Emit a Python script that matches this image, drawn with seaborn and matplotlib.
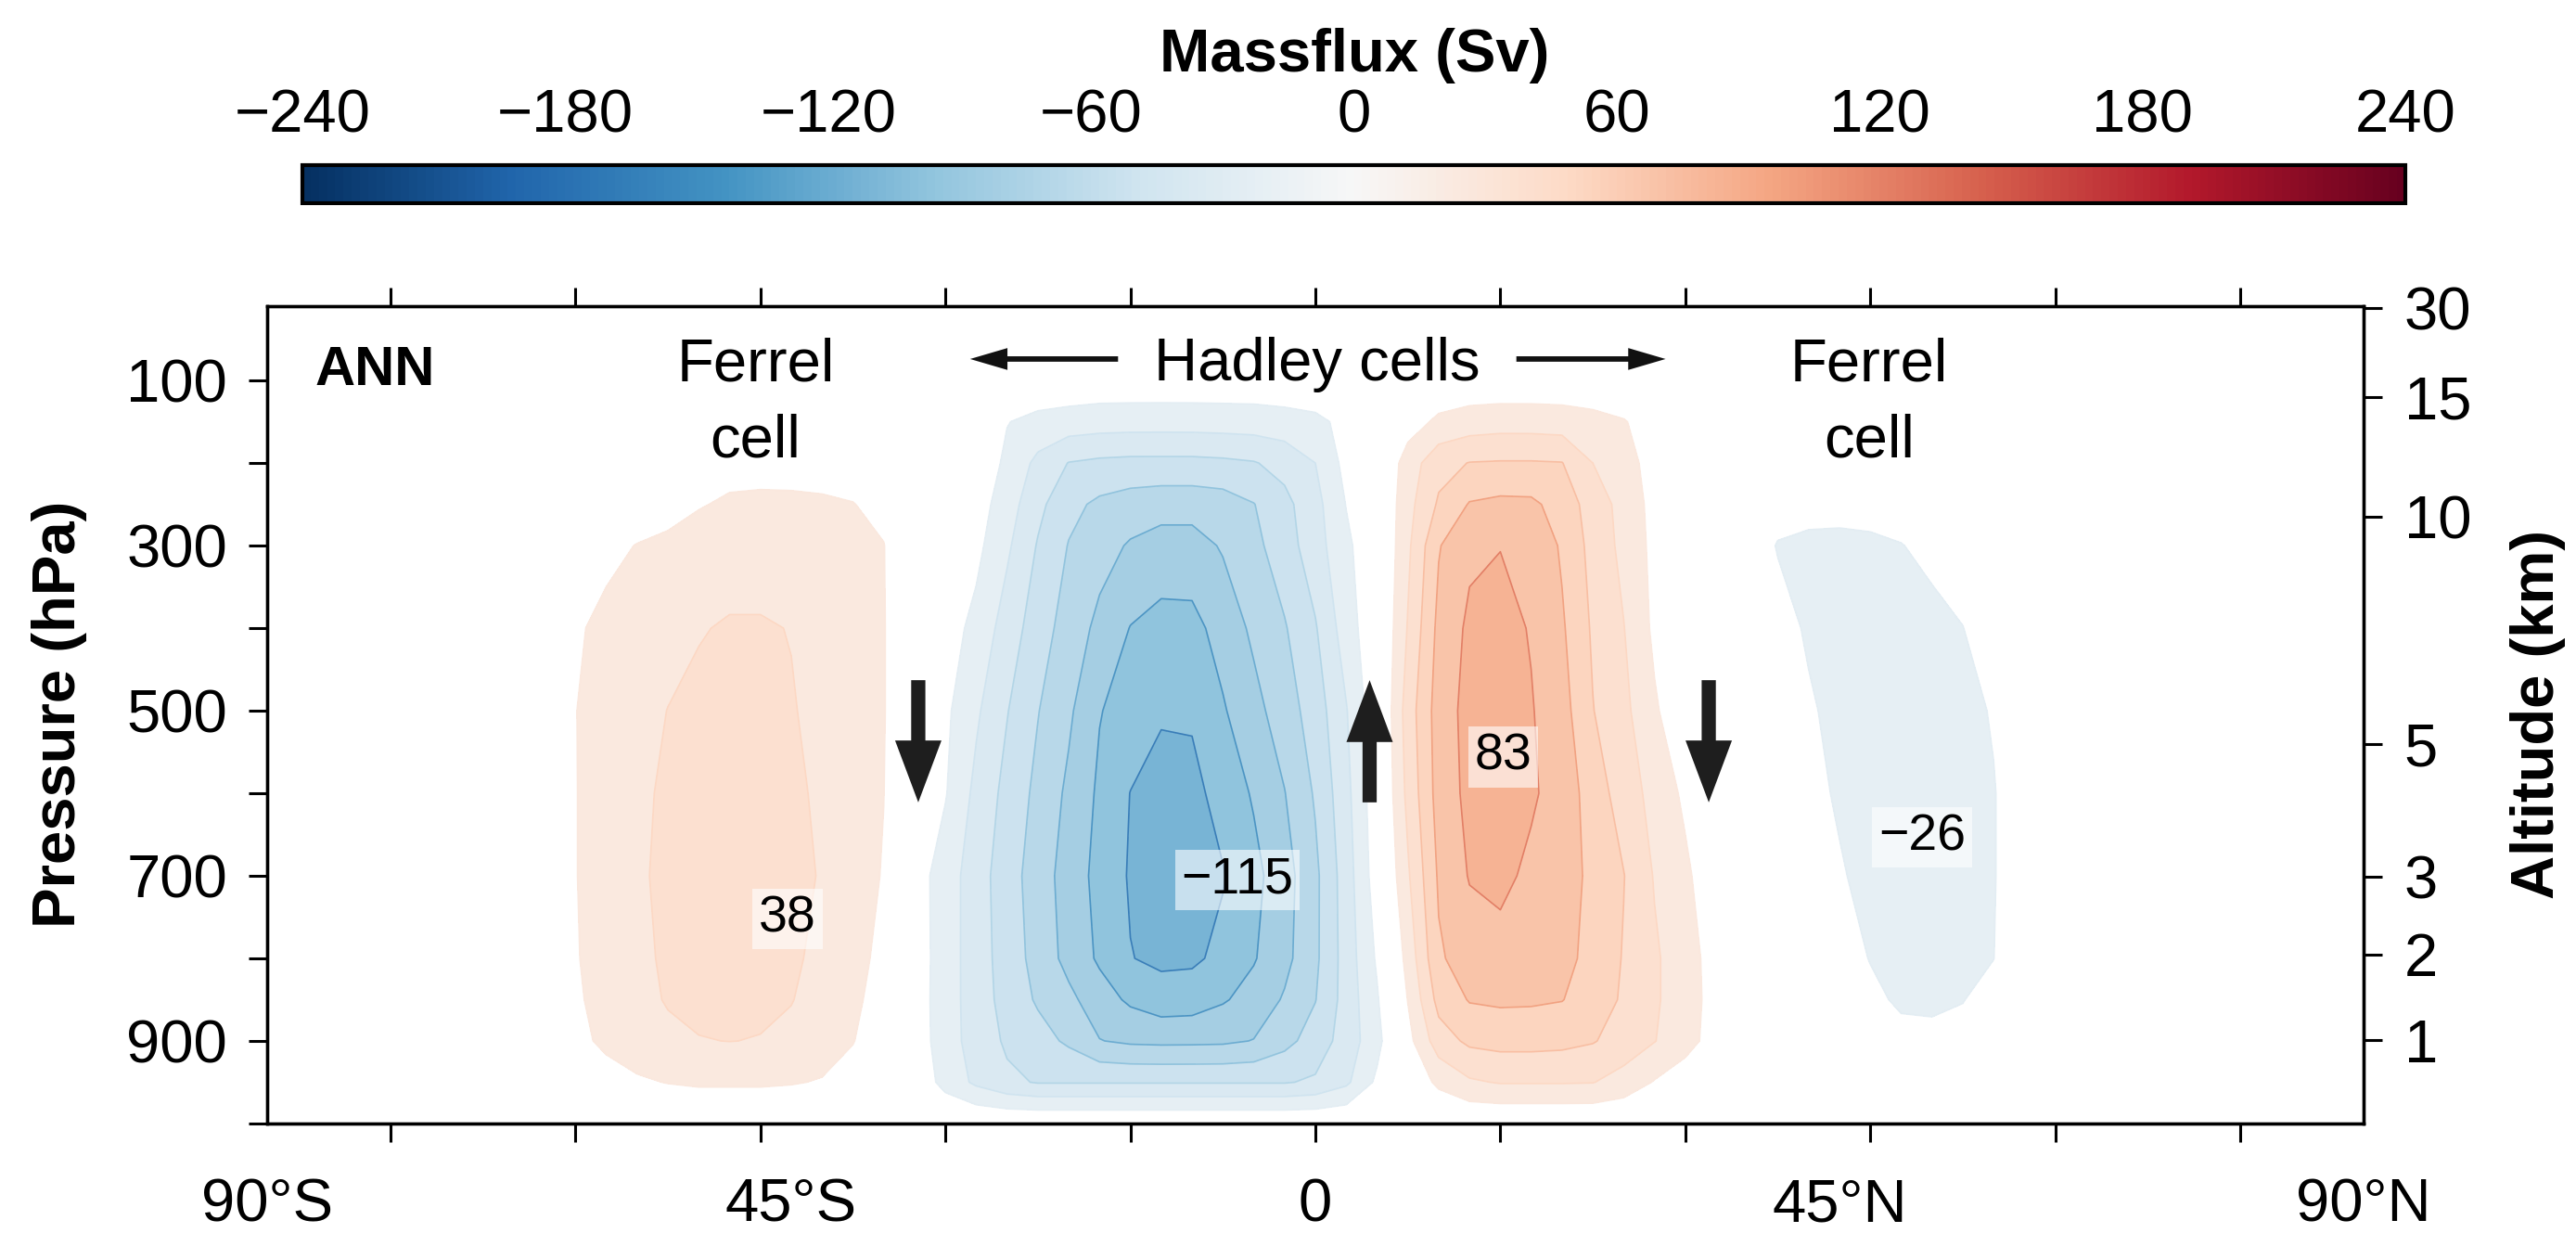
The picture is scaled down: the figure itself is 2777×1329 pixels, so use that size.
import numpy as np
import matplotlib
matplotlib.use("Agg")
import matplotlib.pyplot as plt
import seaborn as sns
from matplotlib.colors import Normalize
from matplotlib.cm import ScalarMappable
from matplotlib.ticker import FixedLocator

# ------------------------------------------------------------------ data
# latitude columns (deg, negative = south) and pressure rows (hPa)
LAT = [-85, -65,
       -62.5, -60, -57.5, -55, -52.5, -50, -47.5, -45, -42.5, -40, -37.5, -35,
       -32.5, -30, -27.5, -25, -22.5, -20, -17.5, -15, -12.5, -10, -7.5, -5, -2.5, 0, 2.5, 5,
       7.5, 10, 12.5, 15, 17.5, 20, 22.5, 25, 27.5, 30, 32.5,
       35, 37.5, 40, 42.5, 45, 47.5, 50, 52.5, 55, 57.5, 60,
       85]
PRESSURE = [10, 100, 150, 200, 250, 300, 400, 500, 600, 700, 800, 850, 900, 950, 1000]

# mass stream function (Sv), one list per pressure level
PSI_10 = [0.0] * len(LAT)
PSI_100 = [0, 0,
           0, 0, 1, 1, 1, 2, 2, 2, 2, 2, 1, 1,
           0, -1, -2, -3, -4, -4, -5, -5, -5, -5, -5, -5, -4, -3, -2, -1,
           1, 3, 4, 4, 4, 4, 3, 2, 1, 0, 0,
           0, -1, -1, -1, -1, -1, -1, 0, 0, 0, 0,
           0]
PSI_150 = [0, 0,
           0, 1, 2, 3, 4, 5, 5, 5, 5, 4, 3, 2,
           -1, -2, -5, -14.5, -19, -21.5, -23, -23.5, -23.6, -23.5, -23, -22.5, -21, -18.5, -11, -2,
           8, 18, 22, 23.6, 23.5, 22.5, 20, 16, 8, 2, 0,
           0, -2, -2.5, -2.5, -2, -2, -1, -1, 0, 0, 0,
           0]
PSI_200 = [0, 0,
           0, 1, 2, 3, 4, 8, 10, 10.5, 10, 9, 7, 4,
           -2, -3, -5, -17.8, -34, -45.5, -48, -49, -49, -49, -48, -46, -40, -30, -10.3, -2,
           22, 40, 45.5, 46.2, 46.2, 45.5, 30, 22, 8, 1, 0,
           -1, -3, -4, -4, -3.5, -3, -2, -1, 0, 0, 0,
           0]
PSI_250 = [0, 0,
           0, 2, 4, 6, 8, 14, 17, 17.5, 17.5, 17, 15.5, 10,
           -2, -3, -8, -22.8, -41, -55.7, -63, -67, -69, -69, -67, -60.5, -49.3, -35, -14.5, -2,
           25, 47, 61, 63.5, 63, 54, 38, 25, 10, 2, 0,
           -2, -8, -11, -11, -10, -8, -5, -3, -1, 0, 0,
           0]
PSI_300 = [0, 0,
           1, 5, 11, 15.5, 19, 21.5, 22.4, 22.4, 22, 21, 19.5, 15.5,
           -3, -4, -11, -27.4, -46.2, -60.7, -69.4, -76.5, -81, -81, -73.5, -64, -52, -36.5, -18.2, -3,
           27, 59, 72, 74.6, 72, 58, 40, 26, 11, 2, 0,
           -4, -16, -17.5, -18, -17.5, -15.5, -11, -6, -2, 0, 0,
           0]
PSI_400 = [0, 0,
           2, 13, 19, 23, 26, 29, 31.5, 31.5, 29.5, 25, 21, 16,
           -4, -8, -19.3, -36.8, -52.8, -66.5, -78.8, -90.5, -95, -94.5, -84.3, -72, -61.3, -46.3, -22.5, -3,
           31, 64, 78, 80, 74, 62, 43, 30.5, 12, 2, 0,
           -3, -9, -17, -20, -21.5, -21.5, -19.5, -15.3, -6, -1, 0,
           0]
PSI_500 = [0, 0,
           4, 14.7, 21, 26, 30.2, 33.5, 35, 34.5, 31, 26, 21, 16,
           -4, -12, -27.6, -44.3, -59.4, -72.4, -89.3, -96, -103.5, -103, -91.5, -79.8, -67.3, -52.9, -31, -4,
           37, 67, 80, 83, 76, 66, 45.5, 34, 17, 4, 0,
           -2, -6, -13, -19.5, -23, -24.5, -23.5, -20.5, -13.5, -2, 0,
           0]
PSI_600 = [0, 0,
           4, 14.5, 22, 27.5, 32, 36, 37.5, 36, 33, 27.5, 22, 15.2,
           -4, -14, -33.9, -49.6, -63.9, -78, -92.6, -105.3, -110, -109.5, -99.2, -88.4, -75.5, -58.3, -34.6, -5,
           34, 66, 79, 82, 77, 69, 53, 38, 25, 12, 2,
           -2, -4, -9, -17.5, -23, -26, -25.5, -22, -16, -3, 0,
           0]
PSI_700 = [0, 0,
           4, 14.5, 22, 28, 33, 36.5, 38, 37, 34, 29, 22, 14,
           -8, -22.2, -38.1, -53.1, -67.5, -81.4, -94.8, -106.5, -114.5, -114, -106, -94.4, -81.1, -63.3, -37.5, -7,
           28, 62, 76, 78.5, 72, 66, 57, 45.5, 29, 18, 4,
           -1, -2, -6, -13, -21, -25, -25, -22, -16, -3, 0,
           0]
PSI_800 = [0, 0,
           3, 14, 21, 27, 32, 35, 35.5, 34.5, 32, 27, 20, 11,
           -7, -22.5, -37.8, -51.7, -65.5, -79.8, -92.3, -104.5, -108, -107.5, -101.4, -91.2, -79.4, -63, -38.6, -13,
           20, 58, 67, 70, 69, 64, 56, 44, 32, 22, 8,
           0, -1, -4, -9, -15.5, -20, -20.5, -18.5, -15.2, -3, 0,
           0]
PSI_850 = [0, 0,
           2, 13, 20, 26, 31, 33, 33, 32.5, 30.5, 25, 18, 9,
           -7, -23, -37.2, -50.6, -61.9, -71.3, -83.3, -92.6, -98.5, -97.5, -91.5, -84.4, -73.4, -60.5, -39, -16.7,
           15.5, 50, 61, 62.4, 62, 60.5, 53, 43, 32, 22, 9,
           0, 0, -3, -6, -12, -17, -17.5, -15.5, -9, -2, 0,
           0]
PSI_900 = [0, 0,
           1, 11, 18, 23, 27, 29.5, 30.2, 29.5, 27, 22, 15.5, 7,
           -6, -23.3, -36.2, -47.3, -54.3, -62.5, -74.5, -77.5, -78.2, -78, -77.5, -74.5, -64.6, -53.4, -38.4, -20,
           10, 38, 48, 50, 50, 49, 46, 39, 30.5, 21, 8,
           0, 0, -1, -3, -8, -11, -11.5, -10, -5, -1, 0,
           0]
PSI_950 = [0, 0,
           0, 4, 9, 13, 15.5, 17, 17, 17, 16, 14, 10, 5,
           -4, -20, -33, -42, -46, -46, -46, -46, -46, -46, -46, -46, -46, -43, -33, -12,
           4, 18, 28, 31, 31, 31, 30.5, 24, 14, 6, 2,
           0, 0, -1, -1, -2, -5, -5, -3, -2, 0, 0,
           0]
PSI_1000 = [0.0] * len(LAT)

# colour scale
CBAR_MIN, CBAR_MAX, CBAR_STEP = -240, 240, 15
CBAR_LABELS = [-240, -180, -120, -60, 0, 60, 120, 180, 240]

# axis labels
X_LABEL_POS = [-85, -42.5, 0, 42.5, 85]
X_LABELS = ["90°S", "45°S", "0", "45°N", "90°N"]
X_TICKS = [-75, -60, -45, -30, -15, 0, 15, 30, 45, 60, 75]
Y_TICKS = [100, 200, 300, 400, 500, 600, 700, 800, 900, 1000]
Y_LABELS = ["100", "", "300", "", "500", "", "700", "", "900", ""]
ALT_P = [899, 795, 701, 540, 265, 120, 12]
ALT_LABELS = ["1", "2", "3", "5", "10", "15", "30"]

# extreme-value labels
CELL_TEXT = ["\u2212115", "83", "38", "\u221226"]
CELL_LAT = [-6.3, 15.2, -42.8, 49.2]
CELL_P = [705, 556, 752, 653]

# vertical motion arrows: latitude, tail pressure, tip pressure
ARROW_LAT = [-32.2, 4.4, 31.9]
ARROW_TAIL = [463, 611, 463]
ARROW_TIP = [611, 463, 611]

# ------------------------------------------------------------------ style
sns.set_theme(style="ticks", rc={
    "axes.edgecolor": "black", "text.color": "black", "axes.labelcolor": "black",
    "xtick.color": "black", "ytick.color": "black", "axes.linewidth": 2.4,
})
plt.rcParams["font.family"] = ["Liberation Sans", "DejaVu Sans"]

W, H = 2777, 1329
fig = plt.figure(figsize=(W / 100, H / 100), dpi=100)
ax = fig.add_axes([288 / W, 1 - 1211 / H, 2260 / W, 881 / H])

lat = np.array(LAT, dtype=float)
pres = np.array(PRESSURE, dtype=float)
psi = np.array([PSI_10, PSI_100, PSI_150, PSI_200, PSI_250, PSI_300, PSI_400, PSI_500,
                PSI_600, PSI_700, PSI_800, PSI_850, PSI_900, PSI_950, PSI_1000], dtype=float)

cmap = sns.color_palette("RdBu_r", as_cmap=True)
norm = Normalize(CBAR_MIN, CBAR_MAX)
levels = np.arange(CBAR_MIN, CBAR_MAX + 1, CBAR_STEP)
mids = (levels[:-1] + levels[1:]) / 2
fill_colors = [cmap(norm(m)) if abs(m) > CBAR_STEP else (1, 1, 1, 0) for m in mids]
ax.contourf(lat, pres, psi, levels=levels, colors=fill_colors, zorder=1)

line_levels = [l for l in range(-105, 90, 15) if l != 0]
line_colors = [cmap(norm(np.clip(1.7 * l, CBAR_MIN, CBAR_MAX))) for l in line_levels]
ax.contour(lat, pres, psi, levels=line_levels, colors=line_colors, linewidths=1.2,
           linestyles="solid", alpha=0.85, zorder=2)

ax.set_xlim(-85, 85)
ax.set_ylim(1000, 10)

# ticks
ax.set_xticks(X_TICKS)
ax.set_xticks(X_LABEL_POS, labels=X_LABELS, minor=True)
ax.xaxis.remove_overlapping_locs = False
ax.tick_params(axis="x", which="major", direction="out", length=14.4, width=2.2,
               top=True, bottom=True, labelbottom=False, labeltop=False)
ax.tick_params(axis="x", which="minor", length=0, pad=42, labelsize=47,
               top=False, bottom=True)
ax.set_yticks(Y_TICKS, labels=Y_LABELS)
ax.tick_params(axis="y", which="major", direction="out", length=14.4, width=2.2,
               pad=16.5, labelsize=47, left=True, right=False)
ax.tick_params(axis="y", which="minor", left=False, right=False)

ax2 = ax.twinx()
ax2.set_ylim(1000, 10)
ax2.set_yticks(ALT_P, labels=ALT_LABELS)
ax2.tick_params(axis="y", which="major", direction="out", length=14.4, width=2.2,
                pad=17, labelsize=47, right=True, left=False)
ax2.tick_params(axis="y", which="minor", left=False, right=False)
for a in (ax, ax2):
    for s in a.spines.values():
        s.set_linewidth(2.4)
        s.set_color("black")

fig.text(64 / W, 1 - 770 / H, "Pressure (hPa)", rotation=90, ha="center", va="center",
         fontsize=47, fontweight="bold")
fig.text(2736 / W, 1 - 770 / H, "Altitude (km)", rotation=90, ha="center", va="center",
         fontsize=47, fontweight="bold")

# annotations
ax.text(-81.1, 105.5, "ANN", fontsize=43, fontweight="bold", ha="left", va="baseline", zorder=5)
for x0 in (-45.4, 44.9):
    ax.text(x0, 100, "Ferrel", fontsize=47, ha="center", va="baseline", zorder=5)
    ax.text(x0, 193, "cell", fontsize=47, ha="center", va="baseline", zorder=5)
ax.text(0.1, 100, "Hadley cells", fontsize=47, ha="center", va="baseline", zorder=5)

harrow = "simple,head_length=2.9,head_width=1.7,tail_width=0.42"
for tail, tip in ((-16.0, -28.0), (16.3, 28.4)):
    ax.annotate("", xy=(tip, 74), xytext=(tail, 74),
                arrowprops=dict(arrowstyle=harrow, mutation_scale=10, color="#111111",
                                lw=0, shrinkA=0, shrinkB=0), zorder=5)

varrow = "simple,head_length=4.8,head_width=3.6,tail_width=1.1"
for x0, tail, tip in zip(ARROW_LAT, ARROW_TAIL, ARROW_TIP):
    ax.annotate("", xy=(x0, tip), xytext=(x0, tail),
                arrowprops=dict(arrowstyle=varrow, mutation_scale=10, color="#1e1e1e",
                                lw=0, shrinkA=0, shrinkB=0), zorder=5)

for t, x0, y0 in zip(CELL_TEXT, CELL_LAT, CELL_P):
    ax.text(x0, y0, t, fontsize=40, ha="center", va="center", zorder=6,
            bbox=dict(boxstyle="square,pad=0.12", fc="white", ec="none", alpha=0.6))

# colour bar
cax = fig.add_axes([326 / W, 1 - 219 / H, 2267 / W, 41 / H])
sm = ScalarMappable(norm=norm, cmap=cmap)
cb = fig.colorbar(sm, cax=cax, orientation="horizontal")
cb.outline.set_linewidth(3)
cb.outline.set_edgecolor("black")
cax.xaxis.set_major_locator(FixedLocator(CBAR_LABELS))
cax.xaxis.set_minor_locator(FixedLocator(list(range(CBAR_MIN, CBAR_MAX + 1, CBAR_STEP))))
cax.xaxis.set_ticks_position("both")
cax.tick_params(axis="x", which="both", direction="in", length=7, width=1.8,
                top=True, bottom=True, labeltop=True, labelbottom=False,
                labelsize=47, pad=16)
fig.text(1460 / W, 1 - 77 / H, "Massflux (Sv)", ha="center", va="baseline",
         fontsize=47, fontweight="bold")

fig.savefig("out.png", dpi=100)
